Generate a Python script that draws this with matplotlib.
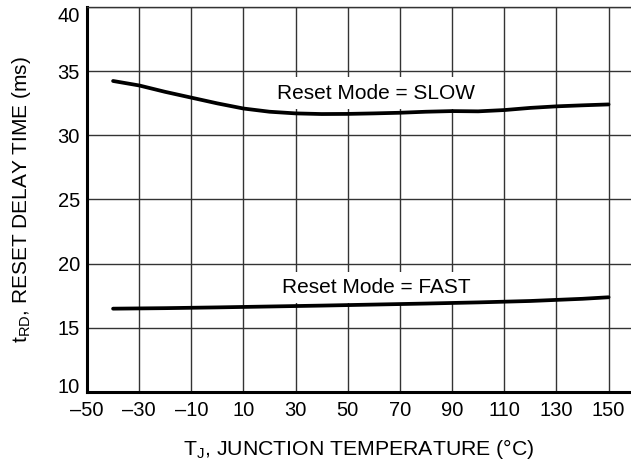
import matplotlib
matplotlib.use("Agg")
import numpy as np
from matplotlib import pyplot as plt
from matplotlib.transforms import ScaledTranslation

plt.rcParams['font.family'] = ['Liberation Sans', 'DejaVu Sans']

# junction temperature (C) and reset delay time (ms)
temp_slow = [-40, -30, -20, -10, 0, 10, 20, 30, 40, 50, 60, 70, 80, 90, 100, 110, 120, 130, 140, 150]
t_slow = [34.25, 33.9, 33.4, 32.95, 32.5, 32.1, 31.85, 31.72, 31.67, 31.68, 31.72,
          31.77, 31.85, 31.9, 31.88, 31.98, 32.15, 32.27, 32.35, 32.42]
temp_fast = [-40, -20, 0, 20, 40, 60, 80, 100, 120, 140, 150]
t_fast = [16.48, 16.52, 16.58, 16.65, 16.72, 16.8, 16.88, 16.97, 17.08, 17.25, 17.37]

xticks = [-50, -30, -10, 10, 30, 50, 70, 90, 110, 130, 150]
xticklabels = ['\u201350', '\u201330', '\u201310', '10', '30', '50', '70', '90', '110', '130', '150']
yticks = [10, 15, 20, 25, 30, 35, 40]

fs = 14.5

fig = plt.figure(figsize=(6.31, 4.65), dpi=100)
ax = fig.add_axes([87/631, 1-391.7/465, 1-87/631, (391.7-7.3)/465])

ax.plot(temp_slow, t_slow, color='black', lw=2.7, solid_capstyle='round', zorder=3)
ax.plot(temp_fast, t_fast, color='black', lw=2.7, solid_capstyle='round', zorder=3)

ax.set_xlim(-50, 158.6)
ax.set_ylim(10, 40)
ax.set_xticks(xticks)
ax.set_xticklabels(xticklabels)
ax.set_yticks(yticks)
ax.tick_params(length=0, labelsize=fs)
ax.tick_params(axis='x', pad=7)
ax.tick_params(axis='y', pad=5)
ax.grid(True, color='#333333', lw=1.0)
ax.set_axisbelow(True)

# end labels of y axis nudged inside, as in the original
ylabs = ax.get_yticklabels()
ylabs[0].set_transform(ylabs[0].get_transform() + ScaledTranslation(0, 0.065, fig.dpi_scale_trans))
ylabs[-1].set_transform(ylabs[-1].get_transform() + ScaledTranslation(0, -0.07, fig.dpi_scale_trans))

ax.spines['right'].set_visible(False)
ax.spines['top'].set_linewidth(1.0)
ax.spines['top'].set_color('#333333')
ax.spines['left'].set_linewidth(2.2)
ax.spines['bottom'].set_linewidth(2.2)

box = dict(facecolor='white', edgecolor='none', boxstyle='square,pad=0.3')
ax.text(60.8, 33.3, 'Reset Mode = SLOW', ha='center', va='center', fontsize=15, bbox=box, zorder=2)
ax.text(60.8, 18.15, 'Reset Mode = FAST', ha='center', va='center', fontsize=15, bbox=box, zorder=2)

ax.set_xlabel(r'T$_\mathregular{J}$, JUNCTION TEMPERATURE (°C)', fontsize=15.3, labelpad=12)
ax.set_ylabel(r't$_\mathregular{RD}$, RESET DELAY TIME (ms)', fontsize=15, labelpad=18)

fig.savefig('out.png', dpi=100)
